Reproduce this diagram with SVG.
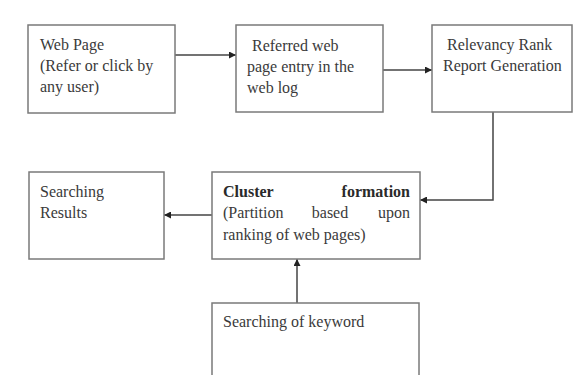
<svg xmlns="http://www.w3.org/2000/svg" width="578" height="375" viewBox="0 0 578 375">
<style>
.box{fill:#fff;stroke:#7a7a7a;stroke-width:1.5}
.t{font-family:"Liberation Serif","Times New Roman",serif;font-size:16px;fill:#3a3a3a}
.b{font-weight:bold;fill:#2a2a2a}
.c{fill:none;stroke:#444;stroke-width:1.5}
</style>
<defs>
<marker id="ah" viewBox="0 0 10 10" refX="10" refY="5" markerWidth="7" markerHeight="7" markerUnits="userSpaceOnUse" orient="auto">
<path d="M0,0 L10,5 L0,10 z" fill="#222"/>
</marker>
</defs>
<rect width="578" height="375" fill="#fff"/>
<g id="connectors">
<line class="c" x1="175" y1="55" x2="236" y2="55" marker-end="url(#ah)"/>
<line class="c" x1="383" y1="70" x2="432" y2="70" marker-end="url(#ah)"/>
<polyline class="c" points="493,112 493,200 420,200" marker-end="url(#ah)"/>
<line class="c" x1="212" y1="215" x2="164" y2="215" marker-end="url(#ah)"/>
<line class="c" x1="297" y1="303" x2="297" y2="259" marker-end="url(#ah)"/>
</g>
<g id="web-page">
<rect class="box" x="28" y="25" width="147" height="88"/>
<text class="t" x="40" y="50">Web Page</text>
<text class="t" x="40" y="71">(Refer or click by</text>
<text class="t" x="40" y="92">any user)</text>
</g>
<g id="referred">
<rect class="box" x="236" y="25" width="147" height="87"/>
<text class="t" x="252" y="51">Referred web</text>
<text class="t" x="247" y="72">page entry in the</text>
<text class="t" x="247" y="93">web log</text>
</g>
<g id="relevancy">
<rect class="box" x="432" y="25" width="140" height="87"/>
<text class="t" x="447" y="50">Relevancy Rank</text>
<text class="t" x="443" y="71">Report Generation</text>
</g>
<g id="cluster">
<rect class="box" x="212" y="172" width="208" height="87"/>
<text class="t b" x="223" y="197">Cluster</text>
<text class="t b" x="410" y="197" text-anchor="end">formation</text>
<text class="t" x="223" y="218">(Partition</text>
<text class="t" x="330" y="218" text-anchor="middle">based</text>
<text class="t" x="410" y="218" text-anchor="end">upon</text>
<text class="t" x="223" y="240">ranking of web pages)</text>
</g>
<g id="results">
<rect class="box" x="29" y="172" width="135" height="87"/>
<text class="t" x="40" y="197">Searching</text>
<text class="t" x="40" y="218">Results</text>
</g>
<g id="keyword">
<rect class="box" x="212" y="303" width="207" height="90"/>
<text class="t" x="223" y="327">Searching of keyword</text>
</g>
</svg>
